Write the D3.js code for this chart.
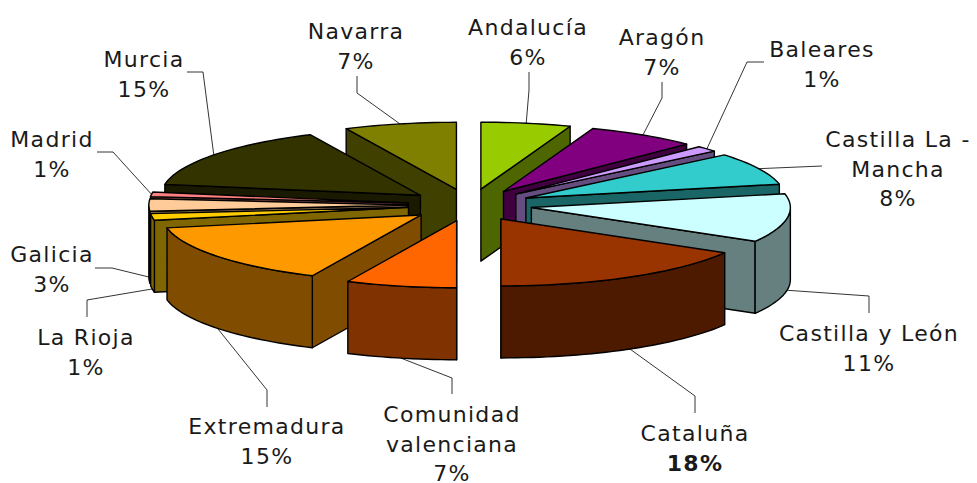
<!DOCTYPE html>
<html>
<head>
<meta charset="utf-8">
<script src="https://cdn.jsdelivr.net/npm/d3@7"></script>
<style>
  html, body { margin: 0; background: #fff; }
  text { font-family: "DejaVu Sans", sans-serif; font-size: 22px; fill: #1a1a1a; }
</style>
</head>
<body>
<svg id="chart" width="977" height="483"></svg>
<script>
// region names, clockwise from 12 o'clock
const regions = ['Andalucía', 'Aragón', 'Baleares', 'Castilla La - Mancha', 'Castilla y León', 'Cataluña',
  'Comunidad valenciana', 'Extremadura', 'La Rioja', 'Galicia', 'Madrid', 'Murcia', 'Navarra'];
// printed percentages
const percents = [6, 7, 1, 8, 11, 18, 7, 15, 1, 3, 1, 15, 7];
// share of the circle each slice actually takes up on the picture
const shares = [5.6, 6.9, 1.4, 7.8, 11.7, 16.6, 6.9, 15.0, 1.6, 3.0, 1.1, 15.4, 7.0];
const topColors = ['#99cc00', '#800080', '#cc99ff', '#33cccc', '#ccffff', '#993300', '#ff6600',
  '#ff9900', '#ffcc00', '#ffcc99', '#ff8080', '#333300', '#808000'];
const wallColors = ['#4d6600', '#400040', '#664d80', '#1a6666', '#668080', '#4d1a00', '#803300',
  '#804d00', '#806600', '#80664d', '#804040', '#1a1a00', '#404000'];
// label lines
const labelLines = [['Andalucía'], ['Aragón'], ['Baleares'], ['Castilla La -', 'Mancha'], ['Castilla y León'],
  ['Cataluña'], ['Comunidad', 'valenciana'], ['Extremadura'], ['La Rioja'], ['Galicia'], ['Madrid'], ['Murcia'], ['Navarra']];

//label centre x, first baseline y
const labelPos = [[528, 35], [662, 45], [822, 57], [898, 147], [869, 341], [695, 441], [452, 422],
  [267, 434], [86, 345], [52, 262], [52, 147], [144, 67], [356, 39]];
//leader: end near the label, then the elbow; the last point is worked out from the slice
const leaders = [[[529, 72], [529, 90]], [[662, 82], [662, 98]], [[764, 62], [747, 62]], [[822, 166]],
  [[869, 313], [869, 296]], [[695, 413], [695, 396]], [[452, 394], [452, 378]], [[267, 407], [267, 390]],
  [[87, 317], [87, 300]], [[95, 268], [112, 268]], [[97, 152], [113, 152]], [[187, 72], [203, 72]], [[357, 76], [357, 93]]];

const cx = 470, cy = 205, rx = 259, ry = 67, depth = 72;
const explode = 0.24;

const svg = d3.select('#chart');
const arcs = d3.pie().sort(null).value(d => d)(shares);

//project a point on the unit pie (angle clockwise from top) onto the page
function project(a, r, ox, oy) {
  return [ox + r * rx * Math.sin(a), oy - r * ry * Math.cos(a)];
}

const slices = arcs.map((d, i) => {
  const mid = (d.startAngle + d.endAngle) / 2;
  const [ox, oy] = project(mid, explode, cx, cy);
  return {i, a0: d.startAngle, a1: d.endAngle, mid, ox, oy};
});

function rim(a0, a1, s, dy) {
  const n = Math.max(2, Math.ceil((a1 - a0) / 0.03));
  return d3.range(n + 1).map(k => {
    const p = project(a0 + (a1 - a0) * k / n, 1, s.ox, s.oy);
    return [p[0], p[1] + dy];
  });
}

const line = d3.line();
const PI = Math.PI;

function drawSlice(g, s) {
  const wall = wallColors[s.i];
  const pts = [];
  //radial wall facing us, on the right side the end edge, on the left the start edge
  if (s.a1 < PI + 0.01) pts.push(s.a1);
  if (s.a0 > PI - 0.01) pts.push(s.a0);
  pts.forEach(a => {
    const p = project(a, 1, s.ox, s.oy);
    g.append('path')
      .attr('d', line([[s.ox, s.oy], p, [p[0], p[1] + depth], [s.ox, s.oy + depth]]) + 'Z')
      .attr('fill', wall);
  });
  //curved outer wall for the front half
  const f0 = Math.max(s.a0, PI / 2), f1 = Math.min(s.a1, 3 * PI / 2);
  if (f1 > f0) {
    const front = rim(f0, f1, s, 0).concat(rim(f0, f1, s, depth).reverse());
    g.append('path').attr('d', line(front) + 'Z').attr('fill', wall);
  }
  //top
  const top = [[s.ox, s.oy]].concat(rim(s.a0, s.a1, s, 0));
  g.append('path').attr('d', line(top) + 'Z').attr('fill', topColors[s.i]);
}

//leaders under the pie
const leaderG = svg.append('g');
slices.forEach(s => {
  const p = project(s.mid, 1, s.ox, s.oy);
  //Galicia sits right on the 270 degree mark, its leader still lands on the bottom of the wall
  const front = s.mid > PI / 2 && s.mid < 3 * PI / 2 + 0.05;
  const pts = leaders[s.i].concat([[p[0], p[1] + (front ? depth : 0)]]);
  leaderG.append('path').attr('d', line(pts)).attr('fill', 'none').attr('stroke', '#000').attr('stroke-width', 0.8);
});

//back to front
const pieG = svg.append('g').attr('stroke', '#000').attr('stroke-width', 1.4).attr('stroke-linejoin', 'round');
slices.slice().sort((a, b) => a.oy - b.oy).forEach(s => drawSlice(pieG.append('g'), s));

//labels
labelPos.forEach((pos, i) => {
  const t = svg.append('text').attr('text-anchor', 'middle').attr('letter-spacing', '1.3px');
  const lines = labelLines[i].concat([percents[i] + '%']);
  lines.forEach((l, k) => {
    const ts = t.append('tspan').attr('x', pos[0]).attr('y', pos[1] + k * 29.7).text(l);
    if (regions[i] === 'Cataluña' && k === 1) ts.style('font-weight', 'bold');
  });
});
</script>
</body>
</html>
